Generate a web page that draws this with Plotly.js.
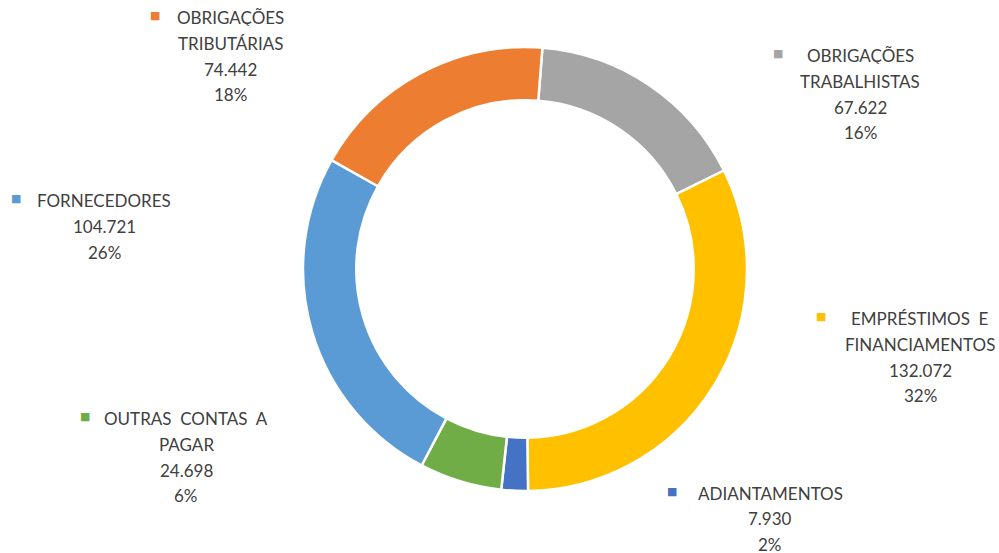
<!DOCTYPE html>
<html>
<head>
<meta charset="utf-8">
<script src="https://cdn.plot.ly/plotly-3.0.1.min.js"></script>
<style>html,body{margin:0;padding:0;background:#fff;}#chart{width:999px;height:553px;}</style>
</head>
<body>
<div id="chart"></div>
<script>
// ---- data ----
var categories = ["OBRIGAÇÕES TRABALHISTAS", "EMPRÉSTIMOS E FINANCIAMENTOS", "ADIANTAMENTOS", "OUTRAS CONTAS A PAGAR", "FORNECEDORES", "OBRIGAÇÕES TRIBUTÁRIAS"];
var labelLines = [["OBRIGAÇÕES", "TRABALHISTAS"], ["EMPRÉSTIMOS E", "FINANCIAMENTOS"], ["ADIANTAMENTOS"], ["OUTRAS CONTAS A", "PAGAR"], ["FORNECEDORES"], ["OBRIGAÇÕES", "TRIBUTÁRIAS"]];
var values = [67622, 132072, 7930, 24698, 104721, 74442];
var percentLabels = ["16%", "32%", "2%", "6%", "26%", "18%"];
var colors = ["#A5A5A5", "#FFC000", "#4472C4", "#70AD47", "#5B9BD5", "#ED7D31"];

// ---- label placement (layout only, in page pixels) ----
var labelPos = [
  {cx: 860, y0: 55, mx: 778},
  {cx: 920, y0: 318, mx: 820.5},
  {cx: 770, y0: 492.5, mx: 672},
  {cx: 186, y0: 418, mx: 85},
  {cx: 104, y0: 200, mx: 16},
  {cx: 230, y0: 17, mx: 155}
];
var W = 999, H = 553, LINE = 25.8;
function px(x) { return x / W; }
function py(y) { return 1 - y / H; }
function fmt(v) { return String(v).replace(/\B(?=(\d{3})+(?!\d))/g, "."); }

var textColor = "#404040";
var fontFam = "Lato, 'Open Sans', sans-serif";
var annotations = [];
categories.forEach(function (c, i) {
  var p = labelPos[i];
  var lines = labelLines[i].concat([fmt(values[i]), percentLabels[i]]);
  lines.forEach(function (t, k) {
    annotations.push({
      xref: "paper", yref: "paper",
      x: px(p.cx), y: py(p.y0 + k * LINE),
      xanchor: "center", yanchor: "middle",
      height: 18, valign: "middle",
      text: t.replace(/ /g, "\u00a0\u00a0"), showarrow: false,
      font: {family: fontFam, size: 17, color: textColor}
    });
  });
  annotations.push({
    xref: "paper", yref: "paper",
    x: px(p.mx), y: py(p.y0 - 1.5),
    xanchor: "center", yanchor: "middle",
    text: "■", showarrow: false,
    font: {family: "DejaVu Sans", size: 11, color: colors[i]}
  });
});

var trace = {
  type: "pie",
  labels: categories,
  values: values,
  sort: false,
  direction: "clockwise",
  rotation: 4.5,
  hole: 0.76,
  textinfo: "none",
  hoverinfo: "label+value+percent",
  marker: {colors: colors, line: {color: "#ffffff", width: 2.5}},
  domain: {x: [px(303), px(747)], y: [py(491), py(47)]},
  showlegend: false
};

var layout = {
  width: W, height: H,
  margin: {l: 0, r: 0, t: 0, b: 0},
  paper_bgcolor: "#ffffff",
  showlegend: false,
  annotations: annotations
};

Plotly.newPlot("chart", [trace], layout, {displayModeBar: false, staticPlot: true});
</script>
</body>
</html>
